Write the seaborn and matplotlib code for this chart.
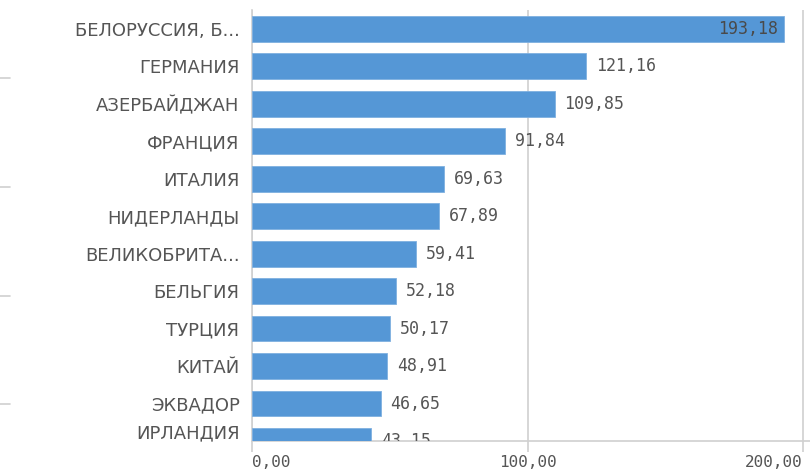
import numpy as np
import matplotlib
matplotlib.use("Agg")
import matplotlib.pyplot as plt
import seaborn as sns
from matplotlib.ticker import FuncFormatter
from matplotlib.lines import Line2D

# Data
countries = ["БЕЛОРУССИЯ, Б...", "ГЕРМАНИЯ", "АЗЕРБАЙДЖАН", "ФРАНЦИЯ", "ИТАЛИЯ",
             "НИДЕРЛАНДЫ", "ВЕЛИКОБРИТА...", "БЕЛЬГИЯ", "ТУРЦИЯ", "КИТАЙ",
             "ЭКВАДОР", "ИРЛАНДИЯ"]
values = [193.18, 121.16, 109.85, 91.84, 69.63, 67.89, 59.41, 52.18, 50.17,
          48.91, 46.65, 43.15]
x_ticks = [0, 100, 200]

BAR = "#5597d6"
GRID = "#d0d0d0"
TXT = "#555555"

sns.set_style("white")
plt.rcParams["font.family"] = ["DejaVu Sans"]

fig = plt.figure(figsize=(8.1, 4.76), dpi=100)
ax = fig.add_axes([252 / 810, 1 - 441 / 476, 1 - 252 / 810, (441 - 10) / 476])

sns.barplot(x=values, y=countries, orient="h", color=BAR, saturation=1,
            width=0.69, edgecolor="#7fb0e0", linewidth=0.6, ax=ax, zorder=3)

ax.set_xlim(0, 200 * (810 - 252) / (803 - 252))
ax.set_ylim(11, -0.5)

# x axis: grid + ticks that poke below the frame
ax.set_xticks(x_ticks)
ax.xaxis.set_major_formatter(FuncFormatter(lambda v, p: f"{v:.2f}".replace(".", ",")))
ax.grid(axis="x", color=GRID, linewidth=1.2, zorder=0)
ax.grid(axis="y", visible=False)
ax.tick_params(axis="x", length=8, width=1.2, color=GRID, pad=2,
               labelsize=11.5, labelcolor=TXT, direction="out", bottom=True)
fig.canvas.draw()
xlabs = ax.get_xticklabels()
for lab, ha in zip(xlabs, ["left", "center", "right"]):
    lab.set_family("DejaVu Sans Mono")
    lab.set_horizontalalignment(ha)

# y axis labels; the last one is nudged up like in the scrolled view
ypos = list(range(len(countries)))
ypos[-1] = 10.75
ax.set_yticks(ypos)
ax.set_yticklabels(countries)
ax.tick_params(axis="y", length=0, pad=9, labelsize=13, labelcolor=TXT)
ax.set_xlabel("")
ax.set_ylabel("")

for s in ["top", "right"]:
    ax.spines[s].set_visible(False)
ax.spines["left"].set_color(GRID)
ax.spines["left"].set_linewidth(1.2)
ax.spines["bottom"].set_color(GRID)
ax.spines["bottom"].set_linewidth(1.2)

# value labels
for i, v in enumerate(values):
    lbl = f"{v:.2f}".replace(".", ",")
    if v > 150:
        t = ax.text(v - 2.2, i, lbl, ha="right", va="center", fontsize=12,
                    color="#4a4a4a", family="DejaVu Sans Mono", zorder=5)
    else:
        t = ax.text(v + 3.6, i, lbl, ha="left", va="center",
                    fontsize=12, color=TXT, family="DejaVu Sans Mono", zorder=5)
    t.set_clip_path(ax.patch)
    t.set_clip_on(True)

# leftover tick marks of the neighbouring panel at the far left
for yy in [78, 187, 296, 404]:
    fig.add_artist(Line2D([0, 10 / 810], [1 - yy / 476] * 2, color=GRID, lw=1.2))

fig.savefig("out.png", dpi=100)
